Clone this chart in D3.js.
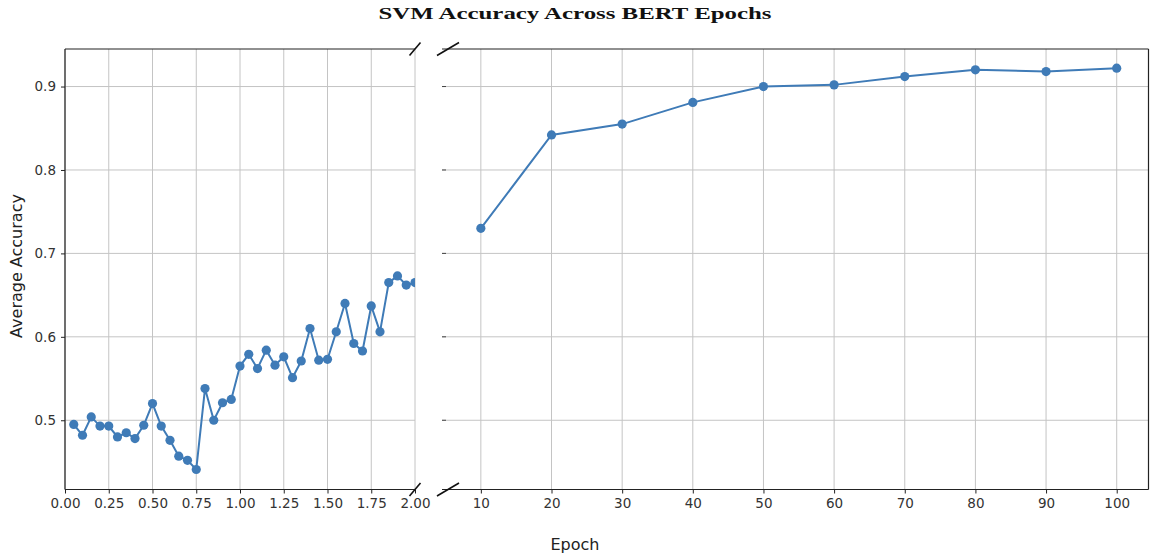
<!DOCTYPE html>
<html>
<head>
<meta charset="utf-8">
<script src="https://cdn.jsdelivr.net/npm/d3@7"></script>
<style>
  body { margin: 0; background: #fff; }
  text { font-family: "DejaVu Sans", sans-serif; }
  text.title { font-family: "Liberation Serif", "DejaVu Serif", serif; }
</style>
</head>
<body>
<div id="chart"></div>
<script>
// early epochs (fractions of first epoch) and their accuracy
const earlyEpochs = d3.range(1, 41).map(i => +(i * 0.05).toFixed(2))
const earlyAcc = [
  0.495, 0.482, 0.504, 0.493, 0.493, 0.480, 0.485, 0.478, 0.494, 0.520,
  0.493, 0.476, 0.457, 0.452, 0.441, 0.538, 0.500, 0.521, 0.525, 0.565,
  0.579, 0.562, 0.584, 0.566, 0.576, 0.551, 0.571, 0.610, 0.572, 0.573,
  0.606, 0.640, 0.592, 0.583, 0.637, 0.606, 0.665, 0.673, 0.662, 0.665
]
// later epochs
const lateEpochs = [10, 20, 30, 40, 50, 60, 70, 80, 90, 100]
const lateAcc = [0.730, 0.842, 0.855, 0.881, 0.900, 0.902, 0.912, 0.920, 0.918, 0.922]

const leftTicks = [0, 0.25, 0.5, 0.75, 1, 1.25, 1.5, 1.75, 2]
const rightTicks = [10, 20, 30, 40, 50, 60, 70, 80, 90, 100]
const yTicks = [0.5, 0.6, 0.7, 0.8, 0.9]

const color = '#3f7bb7'
const width = 1150, height = 558
const plotTop = 49, plotBottom = 489.5

const svg = d3.select('#chart').append('svg')
  .attr('width', width).attr('height', height)

const y = d3.scaleLinear().domain([0.417, 0.945]).range([plotBottom, plotTop])
const xL = d3.scaleLinear().domain([0, 2]).range([65, 415])
const xR = d3.scaleLinear().domain([4.5, 104.5]).range([442, 1148.5])

function panel(x, ticks, epochs, acc, opts) {
  const [x0, x1] = x.range()
  const g = svg.append('g')
  const clipId = 'clip' + opts.id
  svg.append('clipPath').attr('id', clipId)
    .append('rect').attr('x', x0).attr('y', plotTop).attr('width', x1 - x0).attr('height', plotBottom - plotTop)

  // grid
  g.selectAll('.vg').data(ticks).enter().append('line')
    .attr('x1', d => x(d)).attr('x2', d => x(d))
    .attr('y1', plotTop).attr('y2', plotBottom)
    .attr('stroke', '#c4c4c4').attr('stroke-width', 1)
  g.selectAll('.hg').data(yTicks).enter().append('line')
    .attr('x1', x0).attr('x2', x1)
    .attr('y1', d => y(d)).attr('y2', d => y(d))
    .attr('stroke', '#c4c4c4').attr('stroke-width', 1)

  // x axis
  const xAxis = d3.axisBottom(x).tickValues(ticks).tickSize(4).tickPadding(5)
    .tickFormat(opts.fmt)
  const ax = svg.append('g').attr('transform', `translate(0,${plotBottom})`).call(xAxis)
  ax.select('.domain').remove()
  ax.selectAll('.tick line').attr('stroke', '#222')
  ax.selectAll('.tick text').style('font-size', '13.5px').attr('fill', '#333')

  // y axis
  if (opts.labels) {
    const yAxis = d3.axisLeft(y).tickValues(yTicks).tickSize(4).tickPadding(5)
      .tickFormat(d3.format('.1f'))
    const ay = svg.append('g').attr('transform', `translate(${x0},0)`).call(yAxis)
    ay.select('.domain').remove()
    ay.selectAll('.tick line').attr('stroke', '#222')
    ay.selectAll('.tick text').style('font-size', '13.5px').attr('fill', '#333')
  } else {
    g.selectAll('.yt').data(yTicks).enter().append('line')
      .attr('x1', x0).attr('x2', x0 + 4)
      .attr('y1', d => y(d)).attr('y2', d => y(d))
      .attr('stroke', '#444').attr('stroke-width', 1)
  }

  // spines
  const sp = svg.append('g').attr('stroke', '#222').attr('stroke-width', 1.2)
  sp.append('line').attr('x1', x0).attr('x2', x1).attr('y1', plotTop).attr('y2', plotTop)
  sp.append('line').attr('x1', x0).attr('x2', x1).attr('y1', plotBottom).attr('y2', plotBottom)
  if (opts.leftSpine) sp.append('line').attr('x1', x0).attr('x2', x0).attr('y1', plotTop).attr('y2', plotBottom)
  if (opts.rightSpine) sp.append('line').attr('x1', x1).attr('x2', x1).attr('y1', plotTop).attr('y2', plotBottom)

  // data
  const pts = epochs.map((e, i) => [e, acc[i]])
  const dg = svg.append('g').attr('clip-path', `url(#${clipId})`)
  dg.append('path').datum(pts)
    .attr('fill', 'none').attr('stroke', color).attr('stroke-width', 2)
    .attr('d', d3.line().x(d => x(d[0])).y(d => y(d[1])))
  dg.selectAll('circle').data(pts).enter().append('circle')
    .attr('cx', d => x(d[0])).attr('cy', d => y(d[1]))
    .attr('r', 4.6).attr('fill', color)
}

panel(xL, leftTicks, earlyEpochs, earlyAcc,
  { id: 'L', labels: true, leftSpine: true, rightSpine: false, fmt: d3.format('.2f') })
panel(xR, rightTicks, lateEpochs, lateAcc,
  { id: 'R', labels: false, leftSpine: false, rightSpine: true, fmt: d3.format('d') })

// break marks
const brk = svg.append('g').attr('stroke', '#111').attr('stroke-width', 1.6)
;[plotTop, plotBottom].forEach(yy => {
  brk.append('line').attr('x1', 409.5).attr('y1', yy + 6.5).attr('x2', 420.5).attr('y2', yy - 6.5)
  brk.append('line').attr('x1', 437).attr('y1', yy + 6.5).attr('x2', 459).attr('y2', yy - 6.5)
})

// title and labels
svg.append('text')
  .attr('class', 'title')
  .attr('x', 575).attr('y', 19)
  .attr('text-anchor', 'middle')
  .attr('font-weight', 'bold').style('font-size', '16.5px')
  .attr('textLength', 393).attr('lengthAdjust', 'spacingAndGlyphs')
  .attr('fill', '#111')
  .text('SVM Accuracy Across BERT Epochs')

svg.append('text')
  .attr('x', 575).attr('y', 550)
  .attr('text-anchor', 'middle').style('font-size', '16px').attr('fill', '#222')
  .text('Epoch')

svg.append('text')
  .attr('transform', 'translate(22,266) rotate(-90)')
  .attr('text-anchor', 'middle').style('font-size', '16px').attr('fill', '#222')
  .text('Average Accuracy')
</script>
</body>
</html>
